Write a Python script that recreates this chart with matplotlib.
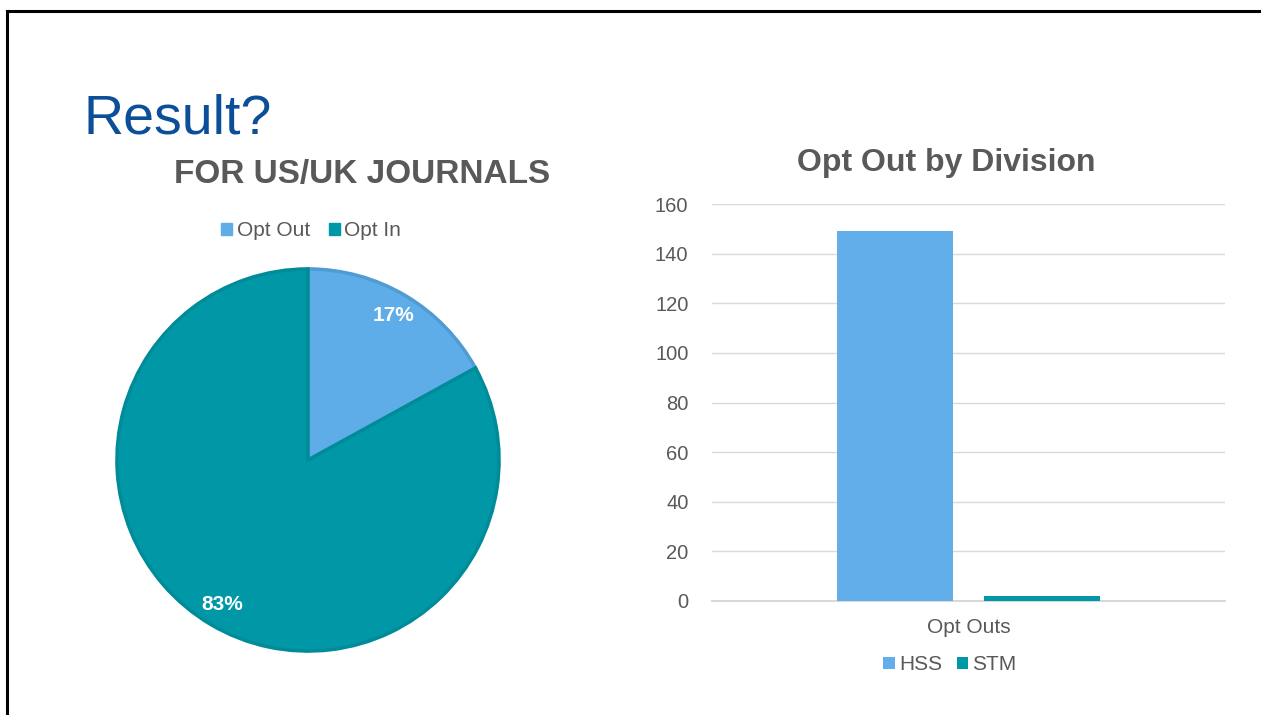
import matplotlib.pyplot as plt
from matplotlib.patches import Patch
from matplotlib.lines import Line2D
import numpy as np

plt.rcParams['font.family'] = ['Liberation Sans', 'DejaVu Sans']

# 饼图数据
pie_labels = ['Opt Out', 'Opt In']
pie_values = [17, 83]
pie_colors = ['#5FADE8', '#0097A7']
pie_edges = ['#519BD3', '#008B99']

# 柱状图数据
bar_category = ['Opt Outs']
bar_series = ['HSS', 'STM']
bar_values = [149, 2]
bar_colors = ['#62AEEA', '#0098A6']
y_ticks = [0, 20, 40, 60, 80, 100, 120, 140, 160]

W, H = 1261, 715
gray = '#595959'
fig = plt.figure(figsize=(W / 100, H / 100), dpi=100)

def fx(px):
    return px / W

def fy(py):
    return 1 - py / H

# 幻灯片边框
fig.add_artist(Line2D([fx(7), 1], [fy(11), fy(11)], color='black', lw=2.2))
fig.add_artist(Line2D([fx(7), fx(7)], [fy(11), 0], color='black', lw=2.2))

fig.text(fx(83), fy(133), 'Result?', color='#0B4F99', fontsize=40, ha='left', va='baseline')

# 饼图
cx, cy, r = 308, 460, 193
ax1 = fig.add_axes([fx(cx - r), fy(cy + r), r * 2 / W, r * 2 / H])
wedges, _ = ax1.pie(pie_values, colors=pie_colors, startangle=90, counterclock=False,
                    radius=0.99, wedgeprops=dict(linewidth=2.5))
for w, ec in zip(wedges, pie_edges):
    w.set_edgecolor(ec)
ax1.set_xlim(-1, 1)
ax1.set_ylim(-1, 1)
ax1.set_aspect('equal')
ax1.axis('off')

# 百分比标签
total = sum(pie_values)
start = 90.0
for v in pie_values:
    ang = np.deg2rad(start - v / total * 360 / 2)
    ax1.text(0.87 * np.cos(ang), 0.87 * np.sin(ang), f'{round(v / total * 100)}%',
             color='white', fontsize=15, fontweight='bold', ha='center', va='center')
    start -= v / total * 360

fig.text(fx(362), fy(175), 'FOR US/UK JOURNALS', color=gray, fontsize=24,
         fontweight='bold', ha='center', va='center')
fig.legend(handles=[Patch(color=c, label=l) for c, l in zip(pie_colors, pie_labels)],
           loc='center', bbox_to_anchor=(fx(311), fy(231)), ncol=2, frameon=False,
           fontsize=15, handlelength=0.55, handleheight=0.55, handletextpad=0.2,
           columnspacing=0.9, labelcolor=gray)

# 柱状图
ax2 = fig.add_axes([fx(712), fy(601), (1225 - 712) / W, (601 - 204) / H])
x = np.arange(len(bar_category))
bw = 0.226
offsets = [-0.144, 0.144]
for s, v, c, o in zip(bar_series, bar_values, bar_colors, offsets):
    ax2.bar(x + o, [v], width=bw, color=c, label=s, zorder=3)
ax2.set_xlim(-0.5, 0.5)
ax2.set_ylim(0, 160)
ax2.set_yticks(y_ticks)
ax2.set_xticks(x)
ax2.set_xticklabels(bar_category)
ax2.grid(axis='y', color='#D9D9D9', lw=1, zorder=0)
for sp in ['top', 'right', 'left']:
    ax2.spines[sp].set_visible(False)
ax2.spines['bottom'].set_color('#D9D9D9')
ax2.spines['bottom'].set_linewidth(1.5)
ax2.tick_params(axis='both', length=0, colors=gray, labelsize=15)
ax2.tick_params(axis='y', labelsize=14.5, pad=17)
ax2.tick_params(axis='x', pad=12)

fig.text(fx(946), fy(163), 'Opt Out by Division', color=gray, fontsize=23,
         fontweight='bold', ha='center', va='center')
ax2.legend(loc='center', bbox_to_anchor=(fx(950), fy(665)), bbox_transform=fig.transFigure,
           ncol=2, frameon=False, fontsize=15, handlelength=0.55, handleheight=0.55,
           handletextpad=0.2, columnspacing=0.7, labelcolor=gray)

plt.savefig('out.png', dpi=100)
